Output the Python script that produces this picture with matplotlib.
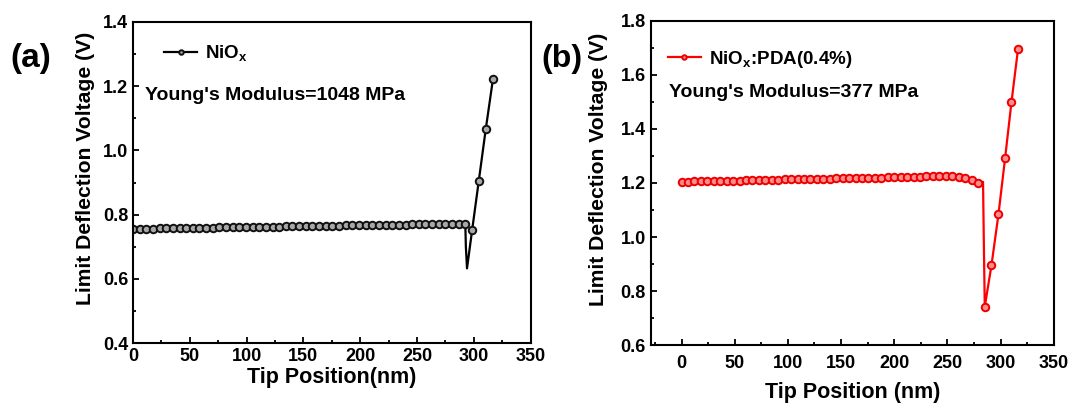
import matplotlib
matplotlib.use("Agg")
import matplotlib.pyplot as plt
from matplotlib.ticker import MultipleLocator, FormatStrFormatter

plt.rcParams['font.family'] = ['Liberation Sans', 'DejaVu Sans']
plt.rcParams['font.weight'] = 'bold'
plt.rcParams['axes.labelweight'] = 'bold'
plt.rcParams['mathtext.fontset'] = 'custom'
plt.rcParams['mathtext.rm'] = 'Liberation Sans'
plt.rcParams['mathtext.bf'] = 'Liberation Sans:bold'

# (a) NiOx : tip position (nm) vs limit deflection voltage (V)
x_nio = [0, 5.9, 11.7, 17.6, 23.4, 29.3, 35.1, 41.0, 46.8, 52.7,
         58.5, 64.4, 70.2, 76.1, 81.9, 87.8, 93.6, 99.5, 105.3, 111.2,
         117.0, 122.9, 128.7, 134.6, 140.4, 146.3, 152.1, 158.0, 163.8, 169.7,
         175.5, 181.4, 187.2, 193.1, 198.9, 204.8, 210.6, 216.5, 222.3, 228.2,
         234.0, 239.9, 245.7, 251.6, 257.4, 263.3, 269.1, 275.0, 280.8, 286.7,
         292.5, 293.0, 294.0, 298.5, 304.4, 310.5, 316.9]
y_nio = [0.757, 0.756, 0.757, 0.757, 0.758, 0.758, 0.758, 0.759, 0.759, 0.759,
         0.760, 0.760, 0.760, 0.761, 0.761, 0.761, 0.762, 0.762, 0.762, 0.763,
         0.763, 0.763, 0.763, 0.764, 0.764, 0.764, 0.765, 0.765, 0.765, 0.766,
         0.766, 0.766, 0.767, 0.767, 0.767, 0.768, 0.768, 0.768, 0.768, 0.769,
         0.769, 0.769, 0.770, 0.770, 0.770, 0.771, 0.771, 0.771, 0.772, 0.772,
         0.772, 0.700, 0.633, 0.752, 0.906, 1.066, 1.223]
unmarked_nio = [51, 52]

# (b) NiOx:PDA(0.4%)
x_pda = [0, 6.1, 12.1, 18.2, 24.2, 30.3, 36.4, 42.4, 48.5, 54.5,
         60.6, 66.7, 72.7, 78.8, 84.8, 90.9, 97.0, 103.0, 109.1, 115.1,
         121.2, 127.3, 133.3, 139.4, 145.4, 151.5, 157.6, 163.6, 169.7, 175.7,
         181.8, 187.9, 193.9, 200.0, 206.0, 212.1, 218.2, 224.2, 230.3, 236.3,
         242.4, 248.5, 254.5, 260.6, 266.6, 272.7, 278.8,
         283.5, 284.2, 285.1, 291.4, 298.0, 304.2, 310.2, 316.4]
y_pda = [1.205, 1.205, 1.206, 1.206, 1.207, 1.207, 1.208, 1.208, 1.209, 1.209,
         1.210, 1.210, 1.211, 1.211, 1.212, 1.212, 1.213, 1.213, 1.214, 1.214,
         1.215, 1.215, 1.216, 1.216, 1.217, 1.217, 1.218, 1.218, 1.219, 1.219,
         1.220, 1.220, 1.221, 1.221, 1.222, 1.222, 1.223, 1.223, 1.224, 1.224,
         1.225, 1.225, 1.224, 1.222, 1.219, 1.212, 1.200,
         1.204, 0.990, 0.742, 0.895, 1.084, 1.291, 1.498, 1.696]
unmarked_pda = [47, 48]

fig = plt.figure(figsize=(10.72, 4.07), dpi=100)
ax1 = fig.add_axes([0.124, 0.1565, 0.371, 0.790])
ax2 = fig.add_axes([0.607, 0.152, 0.376, 0.797])


def style(ax):
    for sp in ax.spines.values():
        sp.set_linewidth(1.5)
    ax.tick_params(which='both', direction='in', top=False, right=False,
                   width=1.3, labelsize=13)
    ax.tick_params(which='major', length=4.5)
    ax.tick_params(which='minor', length=2.5)
    ax.xaxis.set_major_locator(MultipleLocator(50))
    ax.xaxis.set_minor_locator(MultipleLocator(25))
    ax.yaxis.set_major_locator(MultipleLocator(0.2))
    ax.yaxis.set_minor_locator(MultipleLocator(0.1))
    ax.yaxis.set_major_formatter(FormatStrFormatter('%.1f'))


marks1 = [i for i in range(len(x_nio)) if i not in unmarked_nio]
ax1.plot(x_nio, y_nio, '-', color='black', lw=1.6, marker='o', ms=5.4,
         markevery=marks1, mfc='#a8a8a8', mec='#111111', mew=1.4,
         label=r'NiO$_\mathrm{x}$')
ax1.set_xlim(0, 350)
ax1.set_ylim(0.4, 1.4)
style(ax1)
ax1.set_xlabel('Tip Position(nm)', fontsize=15.5, labelpad=1)
ax1.set_ylabel('Limit Deflection Voltage (V)', fontsize=15.2)
ax1.yaxis.set_label_coords(-0.095, 0.545)
ax1.text(0.03, 0.757, "Young's Modulus=1048 MPa", transform=ax1.transAxes,
         fontsize=14)
ax1.legend(loc='upper left', bbox_to_anchor=(0.035, 0.985), frameon=False,
           fontsize=13.5, handlelength=1.8, handletextpad=0.4, markerscale=0.6)

marks2 = [i for i in range(len(x_pda)) if i not in unmarked_pda]
ax2.plot(x_pda, y_pda, '-', color='#ff0000', lw=1.6, marker='o', ms=5.4,
         markevery=marks2, mfc='#ff8c8c', mec='#ee0000', mew=1.4,
         label=r'NiO$_\mathrm{x}$:PDA(0.4%)')
ax2.set_xlim(-29, 350)
ax2.set_ylim(0.6, 1.8)
style(ax2)
ax2.tick_params(axis='x', which='both', pad=7)
ax2.set_xlabel('Tip Position (nm)', fontsize=15.5, labelpad=7)
ax2.set_ylabel('Limit Deflection Voltage (V)', fontsize=15.2)
ax2.yaxis.set_label_coords(-0.105, 0.541)
ax2.text(0.045, 0.766, "Young's Modulus=377 MPa", transform=ax2.transAxes,
         fontsize=14)
ax2.legend(loc='upper left', bbox_to_anchor=(0.0, 0.965), frameon=False,
           fontsize=13.5, handlelength=1.8, handletextpad=0.4, markerscale=0.6)

fig.text(0.010, 0.836, '(a)', fontsize=24, fontweight='bold')
fig.text(0.505, 0.836, '(b)', fontsize=23, fontweight='bold')

fig.savefig('out.png', dpi=100)
